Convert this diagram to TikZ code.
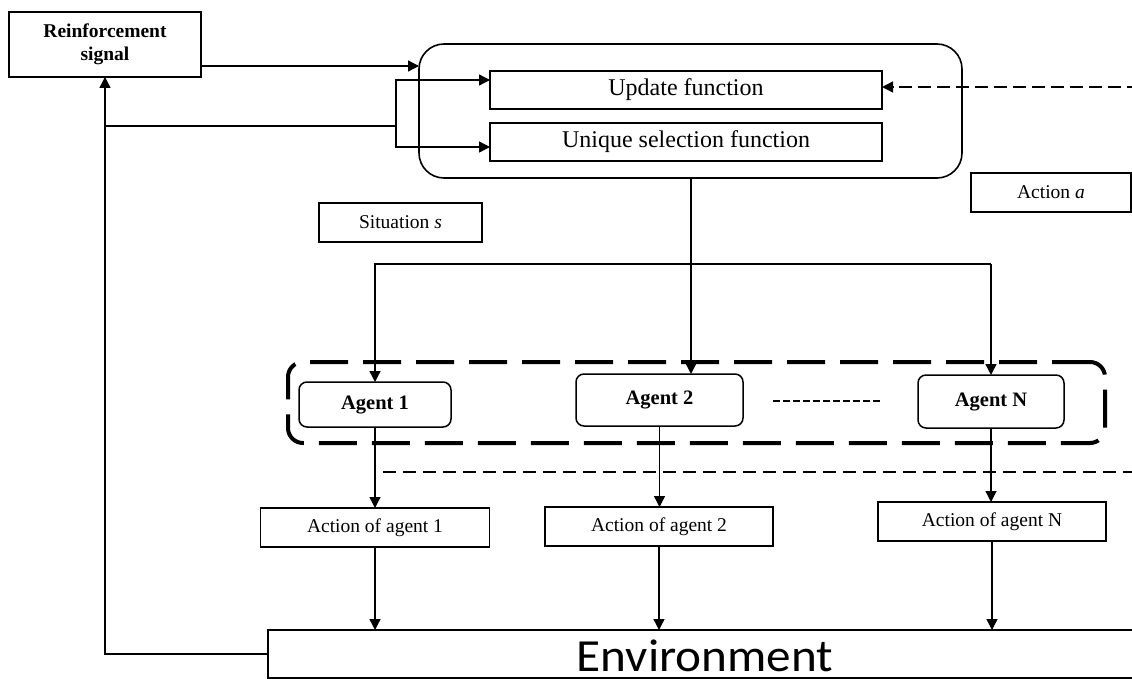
\documentclass[tikz,border=0pt]{standalone}
\usepackage{fontspec}
\setmainfont{Liberation Serif}
\newfontfamily\envfont{Carlito}
\usetikzlibrary{arrows.meta,calc}

\begin{document}
\begin{tikzpicture}[x=1pt,y=-1pt,
  every node/.style={inner sep=0pt, outer sep=0pt},
  box/.style={draw, line width=1.7pt, rectangle, align=center},
  fnbox/.style={box, minimum width=392pt, minimum height=38pt, font=\fontsize{24}{28}\selectfont},
  smallbox/.style={box, font=\fontsize{19.5}{23}\selectfont},
  agentbox/.style={draw, line width=1.5pt, rounded corners=8pt, font=\fontsize{20.5}{24}\selectfont\bfseries},
  conn/.style={line width=1.4pt},
  arr/.style={conn, -{Triangle[length=11pt,width=11pt]}},
  dasharr/.style={arr, dash pattern=on 13pt off 6pt},
]
\useasboundingbox (0,0) rectangle (1132,679);
\clip (0,0) rectangle (1132,679);

% --- top: reinforcement signal and the learning block
\node[box, minimum width=192pt, minimum height=65pt,
      font=\fontsize{19.5}{23}\selectfont\bfseries] (rs) at (105,44.5) {Reinforcement\\signal};
\node[draw, line width=1.6pt, rounded corners=25pt, minimum width=543pt, minimum height=134pt] (main) at (690.5,111) {};
\node[fnbox] (upd) at (686,90) {Update function};
\node[fnbox] (sel) at (686,142) {Unique selection function};
\node[smallbox, minimum width=163pt, minimum height=39pt] (sit) at (400.5,222.5) {Situation \textit{s}};
\node[smallbox, minimum width=160pt, minimum height=39pt] (acta) at (1051,192.5) {Action \textit{a}};

% --- agents
\node[draw, line width=4pt, rounded corners=15pt, dash pattern=on 38pt off 15pt,
      minimum width=817pt, minimum height=81pt] (team) at (696.5,402.5) {};
\node[agentbox, minimum width=152pt, minimum height=45pt] (ag1) at (375,404.5) {Agent 1};
\node[agentbox, minimum width=167pt, minimum height=52pt] (ag2) at (659.5,400) {\raisebox{3pt}{Agent 2}};
\node[agentbox, minimum width=146pt, minimum height=53pt] (agN) at (991,401.5) {\raisebox{4pt}{Agent N}\hspace{38pt}};
\draw[line width=2.4pt, dash pattern=on 7pt off 3pt] (773,401) -- (882,401);

% --- actions and environment
\node[smallbox, minimum width=229pt, minimum height=39pt] (act1) at (375,527.5) {Action of agent 1};
\node[smallbox, minimum width=228pt, minimum height=39pt] (act2) at (659,526.5) {Action of agent 2};
\node[smallbox, minimum width=228pt, minimum height=39pt] (actN) at (992,521.5) {Action of agent N};
\node[draw, line width=1.4pt, minimum width=874pt, minimum height=48pt] (env) at (705,654) {};
\node[font=\envfont\fontsize{46}{50}\selectfont, anchor=base] (envt) at (705,671) {\scalebox{1.07}[1]{Environment}};

% --- connectors
\coordinate (fork) at (396,126);
\coordinate (feed) at (1140,87);
\coordinate (bus) at (991,264);

\draw[arr] (rs.east |- 0,66) -- (main.west |- 0,66);
\draw[arr] (env.west) -| (rs.south);
\draw[conn] (rs.south |- fork) -- (fork);
\draw[arr] (fork) |- (upd.west |- 0,80);
\draw[arr] (fork) |- (sel.west |- 0,147);
\draw[dasharr] (feed) -- (upd.east |- feed);

\draw[arr] (main.south -| 691,0) -- (ag2.north -| 691,0);
\draw[arr] (bus) -| (ag1.north);
\draw[arr] (bus) -- (agN.north);

\draw[arr] (ag1.south) -- (ag1.south |- act1.north);
\draw[arr] (ag2.south) -- (ag2.south |- act2.north);
\draw[arr] (agN.south) -- (agN.south |- actN.north);
\draw[conn, dash pattern=on 13pt off 7pt] (383,472) -- (1140,472);

\draw[arr] (act1.south) -- (act1.south |- env.north);
\draw[arr] (act2.south) -- (act2.south |- env.north);
\draw[arr] (actN.south) -- (actN.south |- env.north);
\end{tikzpicture}
\end{document}
